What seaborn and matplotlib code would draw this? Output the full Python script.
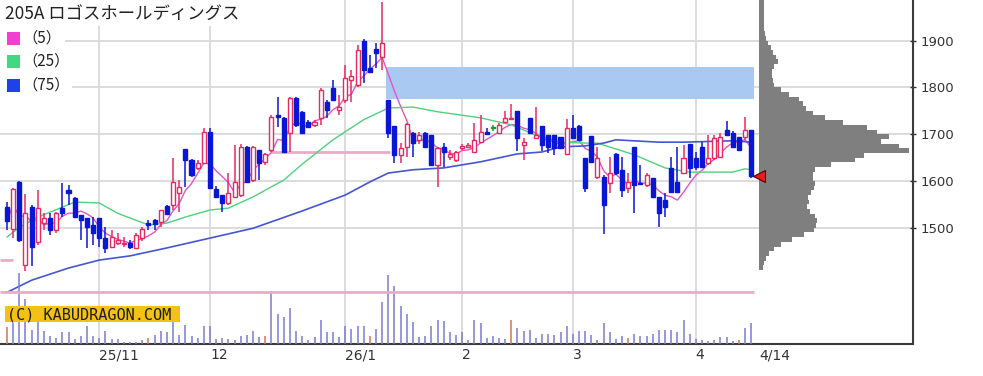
import numpy as np
import pandas as pd
import matplotlib
matplotlib.use("Agg")
import matplotlib.pyplot as plt
import seaborn as sns
from matplotlib.patches import Rectangle

# ---------------- data ----------------
opens = [1545, 1497, 1598, 1420, 1545, 1470, 1510, 1521, 1495, 1542,
         1581, 1563, 1527, 1521, 1506, 1521, 1478, 1459, 1467, 1466,
         1467, 1457, 1478, 1510, 1516, 1512, 1547, 1549, 1574, 1668,
         1645, 1628, 1639, 1705, 1583, 1570, 1553, 1566, 1570, 1673,
         1602, 1666, 1641, 1666, 1741, 1735, 1703, 1778, 1748, 1726,
         1720, 1735, 1769, 1799, 1752, 1773, 1816, 1805, 1900, 1842,
         1883, 1865, 1773, 1718, 1656, 1673, 1703, 1688, 1703, 1698,
         1634, 1673, 1651, 1645, 1670, 1673, 1662, 1683, 1705, 1713,
         1703, 1726, 1733, 1750, 1677, 1735, 1692, 1718, 1698, 1698,
         1694, 1658, 1713, 1718, 1649, 1696, 1609, 1609, 1596, 1658,
         1624, 1585, 1673, 1596, 1591, 1606, 1566, 1559, 1628, 1598,
         1617, 1679, 1649, 1673, 1639, 1649, 1651, 1709, 1703, 1694,
         1694, 1709]
highs = [1555, 1585, 1600, 1572, 1548, 1580, 1532, 1532, 1534, 1596,
         1591, 1565, 1528, 1522, 1523, 1522, 1502, 1495, 1489, 1480,
         1474, 1489, 1502, 1516, 1518, 1538, 1549, 1649, 1602, 1669,
         1646, 1645, 1713, 1713, 1589, 1570, 1617, 1677, 1680, 1675,
         1675, 1667, 1660, 1741, 1780, 1737, 1780, 1780, 1750, 1731,
         1731, 1799, 1773, 1816, 1784, 1848, 1838, 1891, 1904, 1870,
         1895, 1983, 1773, 1718, 1681, 1724, 1705, 1705, 1705, 1698,
         1673, 1681, 1666, 1664, 1679, 1681, 1725, 1741, 1713, 1720,
         1724, 1750, 1765, 1750, 1692, 1735, 1758, 1718, 1698, 1698,
         1694, 1733, 1741, 1720, 1649, 1696, 1673, 1612, 1651, 1660,
         1651, 1617, 1673, 1634, 1617, 1606, 1566, 1574, 1651, 1673,
         1677, 1679, 1662, 1683, 1698, 1698, 1703, 1728, 1707, 1694,
         1737, 1709]
lows = [1495, 1478, 1470, 1408, 1418, 1463, 1495, 1484, 1489, 1523,
        1548, 1520, 1474, 1457, 1463, 1459, 1446, 1457, 1463, 1459,
        1455, 1455, 1472, 1495, 1496, 1502, 1528, 1538, 1534, 1587,
        1609, 1624, 1639, 1585, 1564, 1534, 1549, 1564, 1566, 1597,
        1598, 1602, 1634, 1662, 1716, 1660, 1662, 1716, 1700, 1713,
        1716, 1720, 1735, 1773, 1741, 1767, 1769, 1801, 1810, 1833,
        1842, 1838, 1692, 1639, 1639, 1651, 1651, 1679, 1673, 1634,
        1587, 1630, 1645, 1640, 1666, 1670, 1662, 1683, 1700, 1707,
        1703, 1726, 1731, 1664, 1645, 1700, 1692, 1664, 1660, 1656,
        1668, 1658, 1690, 1686, 1577, 1639, 1604, 1487, 1574, 1613,
        1566, 1574, 1532, 1591, 1587, 1564, 1502, 1523, 1577, 1577,
        1617, 1606, 1624, 1628, 1634, 1645, 1649, 1698, 1673, 1666,
        1688, 1606]
closes = [1515, 1583, 1474, 1532, 1460, 1542, 1522, 1495, 1532, 1532,
          1575, 1523, 1517, 1502, 1489, 1478, 1457, 1480, 1474, 1468,
          1459, 1484, 1497, 1506, 1508, 1538, 1530, 1598, 1587, 1645,
          1613, 1639, 1705, 1585, 1566, 1553, 1574, 1598, 1673, 1598,
          1673, 1639, 1658, 1737, 1737, 1662, 1778, 1720, 1703, 1716,
          1726, 1795, 1752, 1773, 1758, 1820, 1825, 1880, 1838, 1833,
          1874, 1895, 1703, 1656, 1670, 1722, 1681, 1698, 1673, 1634,
          1670, 1662, 1658, 1662, 1674, 1677, 1688, 1705, 1701, 1713,
          1720, 1735, 1735, 1692, 1683, 1703, 1698, 1677, 1673, 1670,
          1670, 1713, 1692, 1688, 1585, 1641, 1649, 1549, 1617, 1617,
          1581, 1598, 1591, 1593, 1613, 1566, 1532, 1544, 1577, 1577,
          1649, 1628, 1630, 1630, 1649, 1692, 1694, 1698, 1673, 1666,
          1709, 1611]
volumes = [17, 21, 71, 45, 14, 22, 13, 8, 6, 12,
           12, 5, 8, 18, 8, 6, 13, 5, 5, 2,
           2, 2, 4, 6, 9, 13, 12, 23, 9, 19,
           8, 6, 18, 18, 5, 6, 5, 4, 8, 9,
           13, 7, 8, 53, 30, 27, 36, 13, 8, 4,
           7, 24, 12, 12, 7, 18, 15, 18, 18, 8,
           15, 42, 69, 58, 38, 30, 22, 7, 8, 18,
           24, 23, 12, 9, 12, 4, 24, 21, 6, 8,
           6, 5, 24, 16, 13, 14, 6, 10, 10, 9,
           12, 18, 10, 13, 13, 9, 4, 21, 12, 5,
           8, 6, 10, 8, 8, 10, 14, 14, 14, 12,
           24, 10, 5, 4, 3, 4, 7, 7, 3, 4,
           16, 21]
vol_red_days = [0, 23, 42, 59, 82, 101, 119]
vol_avg = 52

ma25_idx = [0, 2, 5, 9, 11, 15, 18, 23, 26, 29, 33, 36, 40, 45, 48, 53,
            58, 62, 66, 70, 77, 82, 86, 90, 94, 96, 102, 107, 111, 118, 120, 121]
ma25_val = [1480, 1501, 1523, 1544, 1555, 1553, 1531, 1506, 1510, 1523, 1538,
            1542, 1566, 1602, 1636, 1688, 1731, 1756, 1758, 1748, 1735, 1720,
            1698, 1683, 1681, 1681, 1656, 1628, 1619, 1619, 1626, 1624]
ma75_idx = [0, 4, 10, 15, 20, 26, 33, 40, 48, 55, 59, 62, 66, 71, 77, 83,
            87, 90, 94, 97, 99, 106, 110, 118, 121]
ma75_val = [1362, 1388, 1414, 1431, 1440, 1457, 1478, 1499, 1536, 1570, 1598,
            1617, 1624, 1628, 1641, 1658, 1662, 1673, 1675, 1681, 1688, 1683,
            1683, 1686, 1683]

prof_levels = list(range(1415, 1990, 10))
prof_width = [4, 5, 7, 10, 15, 22, 33, 45,
              55, 57, 58, 56, 51, 48, 50, 49, 52, 55,
              56, 54, 54, 56, 72, 96, 105, 150, 140, 122,
              130, 118, 108, 84, 66, 54, 47, 44, 40, 30,
              22, 15, 14, 13, 13, 15, 19, 17, 14, 12,
              9, 7, 6, 5, 5, 5, 5, 5, 5, 5]

month_pos = [15, 33, 55, 74, 92, 112]
xtick_pos = [15, 33, 55, 74, 92, 112, 122.3]
xtick_labels = ["25/11", "12", "26/1", "2", "3", "4", "4/14"]
price_ticks = [1500, 1600, 1700, 1800, 1900]
zone = (61.6, 121.5, 1776, 1844)
pink_lines = [(43.0, 62.3, 1662), (-1.2, 1.0, 1431)]
title = "205A ロゴスホールディングス"
legend_labels = ["（5）", "（25）", "（75）"]

# ---------------- style ----------------
sns.set_theme(style="white")
plt.rcParams['font.family'] = ['DejaVu Sans', 'Noto Sans CJK JP']

W, H = 983, 376
fig = plt.figure(figsize=(W / 100, H / 100), dpi=100)
fig.patch.set_facecolor("white")

rect = [0, 32 / H, 913 / W, 344 / H]
ax = fig.add_axes(rect)
XL = (-7 / 6.15, 906 / 6.15)
YL = (1251.7, 1986.8)

C_UP = "#e62a60"
C_DN = "#0a16d6"
C_DOJI = "#1f9a2a"
C_MA5 = "#e454c8"
C_MA25 = "#4fd17f"
C_MA75 = "#4656d0"
C_GRID = "#d9d9d9"

# grid
for p in price_ticks:
    ax.axhline(p, color=C_GRID, lw=1.3, zorder=0.5)
for m in month_pos:
    ax.axvline(m, color=C_GRID, lw=1.3, zorder=0.5)

# zone rectangle
ax.add_patch(Rectangle((zone[0], zone[2]), zone[1] - zone[0], zone[3] - zone[2],
                       facecolor="#a9c9f3", edgecolor="none", zorder=1))
for x0, x1, y in pink_lines:
    ax.hlines(y, x0, x1, color="#f3a7c6", lw=2.0, zorder=1.2)

# moving averages
idx = np.arange(len(closes))
ma5 = pd.Series(closes).rolling(5, min_periods=1).mean()
sns.lineplot(x=idx, y=ma5.values, ax=ax, color=C_MA5, lw=1.0, zorder=2.5)
sns.lineplot(x=ma25_idx, y=ma25_val, ax=ax, color=C_MA25, lw=1.0, zorder=2.5)
sns.lineplot(x=ma75_idx, y=ma75_val, ax=ax, color=C_MA75, lw=1.2, zorder=2.5)

# candles
o = np.array(opens); c = np.array(closes); h = np.array(highs); l = np.array(lows)
cols = np.where(c > o, C_UP, np.where(c < o, C_DN, C_DOJI))
faces = np.where(c > o, "white", np.where(c < o, C_DN, C_DOJI))
ax.vlines(idx, l, h, colors=cols, lw=1.1, zorder=3)
body_h = np.maximum(np.abs(c - o), 2.0)
ax.bar(idx, body_h, bottom=np.minimum(o, c), width=0.66, color=faces,
       edgecolor=cols, linewidth=1.0, zorder=3.2)

ax.set_xlim(*XL)
ax.set_ylim(*YL)
ax.set_xlabel("")
ax.set_ylabel("")

# axes / ticks
for s in ["left", "top"]:
    ax.spines[s].set_visible(False)
for s in ["right", "bottom"]:
    ax.spines[s].set_visible(True)
    ax.spines[s].set_color("#3a3a3a")
    ax.spines[s].set_linewidth(1.5)
ax.yaxis.tick_right()
ax.set_yticks(price_ticks)
ax.set_yticklabels([str(p) for p in price_ticks])
ax.tick_params(axis="y", direction="inout", length=5, width=1.0, pad=3,
               labelsize=9.5, colors="#333333")
ax.set_xticks(xtick_pos)
ax.set_xticklabels(xtick_labels)
for lab in ax.get_xticklabels():
    lab.set_horizontalalignment("left")
ax.tick_params(axis="x", length=0, pad=3, labelsize=10, colors="#333333")

# volume
ax_v = fig.add_axes(rect, sharex=ax)
ax_v.patch.set_visible(False)
ax_v.axis("off")
vcols = ["#d9705c" if i in vol_red_days else "#7b7bd4" for i in idx]
ax_v.vlines(idx, 0, volumes, colors=vcols, lw=1.1)
ax_v.hlines(vol_avg, XL[0], 121.5, color="#f3a7c6", lw=2.0)
ax_v.set_ylim(0, 344)
ax_v.set_xlim(*XL)

# volume profile
ax_p = fig.add_axes([759 / W, 32 / H, (913 - 759) / W, 344 / H])
ax_p.patch.set_visible(False)
ax_p.axis("off")
ax_p.barh(prof_levels, prof_width, height=10, color="#7f7f7f", edgecolor="none")
ax_p.set_xlim(0, 154)
ax_p.set_ylim(*YL)
ax_p.plot([0], [closes[-1]], marker="<", ms=8, color="#e21e1e", mec="#5a0000",
          mew=0.8, clip_on=False, zorder=6)

# title & legend
def fig_rect(x, y, w, hh, **kw):
    fig.add_artist(Rectangle((x / W, 1 - (y + hh) / H), w / W, hh / H,
                             transform=fig.transFigure, **kw))

fig_rect(0, 0, 245, 26, facecolor="white", edgecolor="none", zorder=1)
fig.text(5 / W, 1 - 14 / H, title, fontsize=12.5, color="#222222",
         family=["Noto Sans CJK JP", "DejaVu Sans"], va="center", ha="left", zorder=3)

leg_cols = ["#f040d0", "#40d880", "#2040e8"]
rows_y = [38.5, 61.5, 85]
box_w = [65, 70, 72]
for lab, col, yy, bw in zip(legend_labels, leg_cols, rows_y, box_w):
    fig_rect(0, yy - 9, bw, 18, facecolor="white", edgecolor="none", zorder=1)
    fig_rect(7, yy - 6.5, 13, 13, facecolor=col, edgecolor="none", zorder=2)
    fig.text(22 / W, 1 - yy / H, lab, fontsize=11, color="#222222",
             family=["Noto Sans CJK JP", "DejaVu Sans"], va="center", ha="left", zorder=3)

# watermark
fig_rect(5, 306, 175, 16, facecolor="#f5c214", edgecolor="none", zorder=2)
fig.text(7 / W, 1 - 314.5 / H, "(C) KABUDRAGON.COM", fontsize=11, color="#1e1e1e",
         family="DejaVu Sans Mono", va="center", ha="left", zorder=3)

fig.savefig("out.png", dpi=100, facecolor="white")
